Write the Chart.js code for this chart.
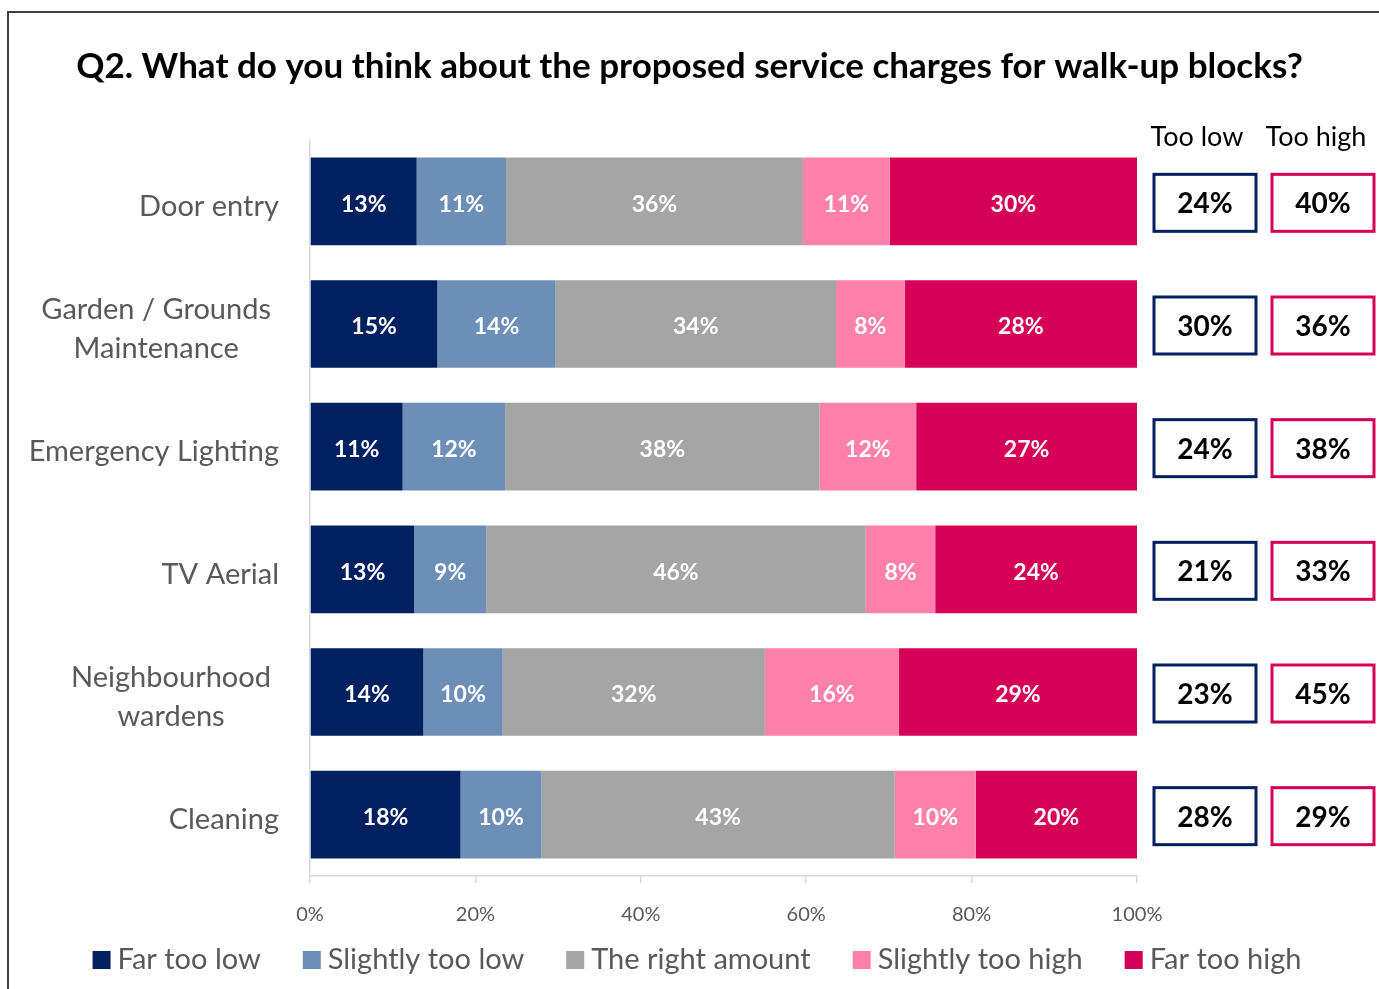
<!DOCTYPE html>
<html>
<head>
<meta charset="utf-8">
<script src="https://cdn.jsdelivr.net/npm/chart.js@4.4.1/dist/chart.umd.min.js"></script>
<style>
  html, body { margin: 0; padding: 0; background: #fff; overflow: hidden; }
  #frame { position: absolute; left: 7px; top: 11px; width: 1420px; height: 1020px; border: 2px solid #404040; box-sizing: border-box; }
  #c { position: absolute; left: 0; top: 0; }
</style>
</head>
<body>
<div id="frame"></div>
<canvas id="c" width="1379" height="989"></canvas>
<script>
// Survey responses per service (percent of respondents)
const categories = ['Door entry', ['Garden / Grounds', 'Maintenance'], 'Emergency Lighting', 'TV Aerial', ['Neighbourhood', 'wardens'], 'Cleaning'];
const seriesNames = ['Far too low', 'Slightly too low', 'The right amount', 'Slightly too high', 'Far too high'];
const farTooLow       = [12.9, 15.4, 11.2, 12.6, 13.7, 18.2];
const slightlyTooLow  = [10.8, 14.3, 12.4,  8.7,  9.6,  9.8];
const rightAmount     = [35.9, 33.9, 38.0, 45.9, 31.7, 42.7];
const slightlyTooHigh = [10.5,  8.3, 11.7,  8.4, 16.2,  9.8];
const farTooHigh      = [29.9, 28.1, 26.7, 24.4, 28.8, 19.5];
const xTicks = [0, 20, 40, 60, 80, 100];
const summaryHeads = ['Too low', 'Too high'];

const seriesColors = ['#002060', '#6C8EB7', '#A5A5A5', '#FF81AB', '#D60057'];
const seriesValues = [farTooLow, slightlyTooLow, rightAmount, slightlyTooHigh, farTooHigh];
const FONT = 'Lato, "Open Sans", sans-serif';

// combined "too low" / "too high" shares for each service
const tooLow = farTooLow.map((v, i) => Math.round(v + slightlyTooLow[i]));
const tooHigh = farTooHigh.map((v, i) => Math.round(v + slightlyTooHigh[i]));

// percentage labels inside each segment
const segmentLabels = {
  id: 'segmentLabels',
  afterDatasetsDraw(chart) {
    const ctx = chart.ctx;
    ctx.save();
    ctx.font = 'bold 23px ' + FONT;
    ctx.fillStyle = '#ffffff';
    ctx.textAlign = 'center';
    ctx.textBaseline = 'middle';
    chart.data.datasets.forEach((ds, i) => {
      chart.getDatasetMeta(i).data.forEach((el, j) => {
        const x = (el.x + el.base) / 2;
        ctx.fillText(Math.round(ds.data[j]) + '%', x, el.y + 3);
      });
    });
    ctx.restore();
  }
};

// service names on the left, wrapped names centred within their block
const categoryNames = {
  id: 'categoryNames',
  afterDraw(chart) {
    const ctx = chart.ctx;
    const y = chart.scales.y;
    ctx.save();
    ctx.font = '29px ' + FONT;
    ctx.fillStyle = '#595959';
    ctx.textBaseline = 'middle';
    const lh = 39;
    categories.forEach((lab, j) => {
      const yc = y.getPixelForValue(j) + 5;
      const lines = Array.isArray(lab) ? lab : [lab];
      if (lines.length === 1) {
        ctx.textAlign = 'right';
        ctx.fillText(lines[0], 279, yc);
      } else {
        const w = Math.max(...lines.map(t => ctx.measureText(t).width));
        const cx = 271 - w / 2;
        ctx.textAlign = 'center';
        lines.forEach((t, k) => ctx.fillText(t, cx, yc + (k - (lines.length - 1) / 2) * lh));
      }
    });
    ctx.restore();
  }
};

// boxed totals to the right of the bars
const summaryBoxes = {
  id: 'summaryBoxes',
  afterDraw(chart) {
    const ctx = chart.ctx;
    const y = chart.scales.y;
    const cols = [
      { left: 1154, width: 102, color: '#002060', vals: tooLow },
      { left: 1272, width: 102, color: '#D60057', vals: tooHigh }
    ];
    ctx.save();
    ctx.font = '27px ' + FONT;
    ctx.fillStyle = '#000';
    ctx.textAlign = 'center';
    ctx.textBaseline = 'middle';
    ctx.fillText(summaryHeads[0], 1197, 137);
    ctx.fillText(summaryHeads[1], 1316, 137);
    ctx.font = 'bold 28px ' + FONT;
    cols.forEach(c => {
      c.vals.forEach((v, j) => {
        const yc = y.getPixelForValue(j) + 1;
        ctx.strokeStyle = c.color;
        ctx.lineWidth = 3;
        ctx.strokeRect(c.left, yc - 28, c.width, 57);
        ctx.fillStyle = '#000';
        ctx.fillText(v + '%', c.left + c.width / 2, yc + 2);
      });
    });
    ctx.restore();
  }
};

// legend row under the axis
const legendRow = {
  id: 'legendRow',
  afterDraw(chart) {
    const ctx = chart.ctx;
    ctx.save();
    ctx.font = '29px ' + FONT;
    ctx.textBaseline = 'middle';
    ctx.textAlign = 'left';
    const box = 18, gapText = 7, gapItem = 42;
    const widths = seriesNames.map(n => ctx.measureText(n).width);
    const total = widths.reduce((a, w) => a + box + gapText + w, 0) + gapItem * (seriesNames.length - 1);
    let x = 697 - total / 2;
    const yc = 960;
    seriesNames.forEach((n, i) => {
      ctx.fillStyle = seriesColors[i];
      ctx.fillRect(x, yc - box / 2, box, box);
      ctx.fillStyle = '#595959';
      ctx.fillText(n, x + box + gapText, yc);
      x += box + gapText + widths[i] + gapItem;
    });
    ctx.restore();
  }
};

new Chart(document.getElementById('c'), {
  type: 'bar',
  data: {
    labels: categories.map(c => Array.isArray(c) ? c.join(' ') : c),
    datasets: seriesValues.map((vals, i) => ({
      label: seriesNames[i],
      data: vals,
      backgroundColor: seriesColors[i],
      borderWidth: 0,
      barPercentage: 0.715,
      categoryPercentage: 1
    }))
  },
  options: {
    indexAxis: 'y',
    responsive: false,
    animation: false,
    layout: { padding: { left: 0, right: 0, top: 0, bottom: 53 } },
    plugins: {
      legend: { display: false },
      tooltip: { enabled: false },
      title: {
        display: true,
        text: 'Q2. What do you think about the proposed service charges for walk-up blocks?',
        color: '#000',
        font: { family: FONT, size: 35, weight: 'bold' },
        padding: { top: 46, bottom: 52 }
      }
    },
    scales: {
      x: {
        stacked: true,
        min: 0,
        max: 100,
        afterBuildTicks: s => { s.ticks = xTicks.map(v => ({ value: v })); },
        afterFit: s => { s.height = 60; },
        ticks: {
          callback: v => v + '%',
          color: '#595959',
          font: { family: FONT, size: 20 },
          padding: 20
        },
        grid: { drawOnChartArea: false, drawTicks: true, tickLength: 7, color: '#D9D9D9', lineWidth: 1.5 },
        border: { color: '#D9D9D9', width: 1.5 }
      },
      y: {
        stacked: true,
        afterFit: s => { s.width = 310; },
        ticks: { display: false },
        grid: { drawOnChartArea: false, drawTicks: false },
        border: { color: '#D9D9D9', width: 1.5 }
      },
      yRight: {
        type: 'category',
        position: 'right',
        afterFit: s => { s.width = 242; },
        ticks: { display: false },
        grid: { display: false },
        border: { display: false }
      }
    }
  },
  plugins: [segmentLabels, categoryNames, summaryBoxes, legendRow]
});
</script>
</body>
</html>
